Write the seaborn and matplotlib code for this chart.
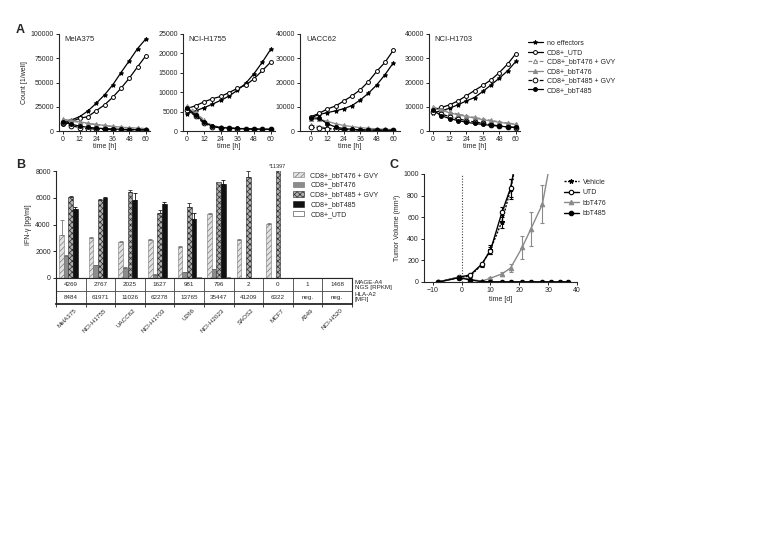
import numpy as np
import pandas as pd
import matplotlib
matplotlib.use("Agg")
import matplotlib.pyplot as plt
import seaborn as sns
from matplotlib.patches import Patch

sns.set_style("ticks")
plt.rcParams['font.family'] = ['Liberation Sans', 'DejaVu Sans']
plt.rcParams['font.size'] = 5
plt.rcParams['hatch.linewidth'] = 0.5
plt.rcParams['axes.linewidth'] = 0.8
plt.rcParams['xtick.major.width'] = 0.7
plt.rcParams['ytick.major.width'] = 0.7
plt.rcParams['xtick.major.size'] = 2.2
plt.rcParams['ytick.major.size'] = 2.2
plt.rcParams['xtick.major.pad'] = 1.5
plt.rcParams['ytick.major.pad'] = 1.5
plt.rcParams['xtick.labelsize'] = 5
plt.rcParams['ytick.labelsize'] = 5

# ---------------- Panel A data (killing kinetics) ----------------
hours = [0, 6, 12, 18, 24, 30, 36, 42, 48, 54, 60]

mel_noeff = [8600, 11400, 14800, 20700, 28600, 37200, 47600, 60300, 72500, 85000, 95000]
mel_utd = [7200, 9700, 13100, 14800, 21000, 26900, 34800, 44100, 54500, 66200, 77600]
mel_476gvy = [11000, 10000, 9000, 7500, 6500, 5500, 4500, 3800, 3200, 2800, 2400]
mel_476 = [12000, 11000, 9500, 8000, 6800, 5800, 4800, 4000, 3400, 2900, 2500]
mel_485gvy = [8000, 5500, 3500, 2500, 2000, 1700, 1500, 1300, 1200, 1100, 1000]
mel_485 = [9000, 7000, 5000, 3800, 3000, 2500, 2100, 1800, 1500, 1300, 1200]

h1755_noeff = [4500, 5200, 6000, 6900, 7900, 9000, 10500, 12300, 14800, 17800, 21100]
h1755_utd = [5800, 6500, 7500, 8300, 8900, 9900, 11000, 11800, 13500, 15600, 17800]
h1755_476gvy = [6500, 5000, 2800, 1400, 1000, 850, 700, 600, 550, 500, 450]
h1755_476 = [6000, 4600, 2500, 1300, 950, 800, 700, 600, 550, 500, 450]
h1755_485gvy = [5500, 3800, 2000, 1100, 800, 700, 600, 550, 500, 450, 400]
h1755_485 = [5800, 4200, 2300, 1200, 900, 750, 650, 550, 500, 450, 400]

uacc_noeff = [5500, 6800, 7600, 8300, 9200, 10500, 12800, 15600, 19000, 23200, 28000]
uacc_utd = [5900, 7300, 9100, 10300, 12400, 14500, 17000, 20400, 24600, 28300, 33200]
uacc_476gvy = [2500, 1800, 1200, 900, 700, 600, 500, 450, 400, 350, 300]
uacc_476 = [5000, 4800, 4000, 3000, 2300, 1800, 1400, 1100, 900, 700, 600]
uacc_485gvy = [1500, 1300, 1000, 800, 600, 500, 400, 350, 300, 280, 250]
uacc_485 = [5500, 5200, 3000, 1600, 1000, 700, 500, 400, 350, 300, 280]

h1703_noeff = [7600, 8300, 9400, 10800, 12400, 13800, 16300, 19000, 21800, 24800, 28700]
h1703_utd = [8700, 9700, 10800, 12400, 14500, 16700, 18800, 21100, 24100, 27600, 31900]
h1703_476gvy = [10000, 8800, 7800, 7000, 6300, 5600, 5000, 4400, 3800, 3300, 2900]
h1703_476 = [9200, 8500, 7500, 6700, 6000, 5300, 4700, 4100, 3600, 3100, 2700]
h1703_485gvy = [8000, 7000, 5900, 5000, 4300, 3700, 3200, 2600, 2100, 1700, 1400]
h1703_485 = [8500, 6300, 5100, 4300, 3600, 3100, 2700, 2300, 2000, 1700, 1500]

a_titles = ["MelA375", "NCI-H1755", "UACC62", "NCI-H1703"]
a_ymax = [100000, 25000, 40000, 40000]
a_ystep = [25000, 5000, 10000, 10000]
a_series = ["no effectors", "CD8+_UTD", "CD8+_bbT476 + GVY", "CD8+_bbT476",
            "CD8+_bbT485 + GVY", "CD8+_bbT485"]
a_data = [
    [mel_noeff, mel_utd, mel_476gvy, mel_476, mel_485gvy, mel_485],
    [h1755_noeff, h1755_utd, h1755_476gvy, h1755_476, h1755_485gvy, h1755_485],
    [uacc_noeff, uacc_utd, uacc_476gvy, uacc_476, uacc_485gvy, uacc_485],
    [h1703_noeff, h1703_utd, h1703_476gvy, h1703_476, h1703_485gvy, h1703_485],
]

# ---------------- Panel B data (IFN-gamma) ----------------
cell_lines = ["MelA375", "NCI-H1755", "UACC62", "NCI-H1703", "U266",
              "NCI-H2023", "SAOS2", "MCF7", "A549", "NCI-H520"]
b_groups = ["CD8+_bbT476 + GVY", "CD8+_bbT476", "CD8+_bbT485 + GVY",
            "CD8+_bbT485", "CD8+_UTD"]
ifn_476gvy = [3225, 3000, 2675, 2850, 2350, 4800, 2850, 4050, 0, 0]
ifn_476 = [1650, 950, 775, 250, 425, 650, 0, 0, 0, 0]
ifn_485gvy = [6050, 5825, 6400, 4875, 5325, 7150, 7575, 11397, 0, 0]
ifn_485 = [5150, 5950, 5825, 5525, 4375, 7050, 0, 0, 0, 0]
ifn_utd = [0, 0, 0, 0, 60, 60, 0, 0, 0, 0]
err_476gvy = [1100, 80, 60, 60, 40, 80, 60, 80, 0, 0]
err_476 = [60, 50, 60, 30, 60, 60, 0, 0, 0, 0]
err_485gvy = [80, 80, 170, 230, 250, 0, 450, 0, 0, 0]
err_485 = [150, 100, 550, 130, 450, 300, 0, 0, 0, 0]
err_utd = [0, 0, 0, 0, 0, 0, 0, 0, 0, 0]
mage_a4 = ["4269", "2767", "2025", "1627", "981", "796", "2", "0", "1", "1468"]
hla_a2 = ["8484", "61971", "11026", "62278", "13765", "35447", "41209", "6322", "neg.", "neg."]

# ---------------- Panel C data (tumor volume) ----------------
days_veh = [-8, -1, 3, 7, 10, 14, 17, 20]
vehicle = [0, 40, 55, 160, 300, 560, 860, 1250]
vehicle_err = [0, 5, 10, 20, 40, 60, 90, 0]
days_utd = [-8, -1, 3, 7, 10, 14, 17, 20]
utd = [0, 45, 65, 165, 290, 645, 870, 1300]
utd_err = [0, 5, 10, 15, 35, 45, 80, 0]
days_476 = [-8, -1, 3, 7, 10, 14, 17, 21, 24, 28, 31]
bbt476 = [0, 45, 25, 8, 35, 75, 130, 320, 490, 720, 1150]
bbt476_err = [0, 5, 5, 3, 10, 15, 40, 105, 155, 175, 0]
days_485 = [-8, -1, 3, 7, 10, 14, 17, 21, 24, 28, 31, 34, 37]
bbt485 = [0, 40, 20, 3, 2, 2, 2, 2, 2, 2, 2, 2, 2]

GREY = "#8a8a8a"
a_styles = [
    dict(color="black", ls="-", marker="*", mfc="black", ms=3.2),
    dict(color="black", ls="-", marker="o", mfc="white", ms=2.8),
    dict(color=GREY, ls=(0, (3, 1.5)), marker="^", mfc="white", ms=3),
    dict(color=GREY, ls="-", marker="^", mfc=GREY, ms=3),
    dict(color="black", ls=(0, (3, 1.5)), marker="o", mfc="white", ms=3.4),
    dict(color="black", ls="-", marker="o", mfc="black", ms=2.8),
]

W, H = 779, 551
fig = plt.figure(figsize=(W / 100, H / 100), dpi=100)


def px_axes(left, top, right, bottom):
    return fig.add_axes([left / W, 1 - bottom / H, (right - left) / W, (bottom - top) / H])


# ---------------- Panel A ----------------
a_pos = [(59, 150), (183, 275), (300, 400), (429, 520)]
a_xlim = [(-3, 63), (-3, 63), (-8, 65), (-3, 63)]
axes_a = []
for i, (l, r) in enumerate(a_pos):
    ax = px_axes(l, 34, r, 131)
    for name, vals, st in zip(a_series, a_data[i], a_styles):
        sns.lineplot(x=hours, y=vals, ax=ax, color=st["color"], linestyle=st["ls"],
                     marker=st["marker"], markerfacecolor=st["mfc"], markersize=st["ms"],
                     markeredgecolor=st["color"], markeredgewidth=0.7, linewidth=0.9,
                     label=name, legend=False)
    ax.set_xlim(*a_xlim[i])
    ax.set_ylim(0, a_ymax[i])
    ax.set_xticks(range(0, 61, 12))
    ax.set_yticks(range(0, a_ymax[i] + 1, a_ystep[i]))
    ax.set_xlabel("time [h]", fontsize=5, labelpad=0)
    ax.set_ylabel("")
    ax.text(0.06, 0.98, a_titles[i], transform=ax.transAxes, fontsize=5.5, va="top", ha="left")
    sns.despine(ax=ax)
    axes_a.append(ax)
axes_a[0].set_ylabel("Count [1/well]", fontsize=5, labelpad=2)

handles, labels = axes_a[3].get_legend_handles_labels()
fig.legend(handles, labels, loc="upper left", bbox_to_anchor=(525 / W, 1 - 37 / H),
           frameon=False, fontsize=5, handlelength=2.2, labelspacing=0.35,
           handletextpad=0.5, borderaxespad=0)

# ---------------- Panel B ----------------
axb = px_axes(56, 171, 352, 278)
b_vals = [ifn_476gvy, ifn_476, ifn_485gvy, ifn_485, ifn_utd]
b_errs = [err_476gvy, err_476, err_485gvy, err_485, err_utd]
df_b = pd.DataFrame({
    "line": np.repeat([cell_lines], len(b_groups), axis=0).ravel(),
    "group": np.repeat(b_groups, len(cell_lines)),
    "ifn": np.concatenate(b_vals),
})
b_face = ["#e2e2e2", "#8c8c8c", "#b0b0b0", "#111111", "white"]
b_edge = ["#7a7a7a", "#6a6a6a", "#2a2a2a", "#111111", "#333333"]
b_hatch = ["//////", None, "xxxxxx", None, None]
sns.barplot(data=df_b, x="line", y="ifn", hue="group", order=cell_lines, hue_order=b_groups,
            palette=b_face, saturation=1, width=0.78, errorbar=None, ax=axb, legend=False)
bar_conts = list(axb.containers)
for k, cont in enumerate(bar_conts):
    for bar, e in zip(cont, b_errs[k]):
        bar.set_edgecolor(b_edge[k])
        bar.set_linewidth(0.4)
        if b_hatch[k]:
            bar.set_hatch(b_hatch[k])
        if e > 0:
            xc = bar.get_x() + bar.get_width() / 2
            axb.errorbar(xc, bar.get_height(), yerr=[[0], [e]], fmt="none",
                         ecolor=b_edge[k] if k != 0 else "#777777",
                         elinewidth=0.6, capsize=1.2, capthick=0.6)
axb.set_xlim(-0.5, len(cell_lines) - 0.5)
axb.set_ylim(0, 8000)
axb.set_yticks(range(0, 8001, 2000))
axb.set_xticks([])
axb.set_xlabel("")
axb.set_ylabel("IFN-\u03b3 [pg/ml]", fontsize=5, labelpad=2)
sns.despine(ax=axb)
imax = int(np.argmax(ifn_485gvy))
axb.text(imax, 8150, "*" + str(ifn_485gvy[imax]), fontsize=4, ha="center", va="bottom")

b_handles = [Patch(facecolor=b_face[k], edgecolor=b_edge[k], hatch=b_hatch[k], linewidth=0.4)
             for k in range(len(b_groups))]
fig.legend(b_handles, b_groups, loc="upper left", bbox_to_anchor=(290 / W, 1 - 169 / H),
           frameon=False, fontsize=5, handlelength=1.6, handleheight=0.8,
           labelspacing=0.4, handletextpad=0.9, borderaxespad=0)

# table under panel B
axt = px_axes(56, 278, 352, 304)
axt.set_xlim(0, len(cell_lines))
axt.set_ylim(0, 2)
for s in axt.spines.values():
    s.set_linewidth(0.8)
axt.spines["bottom"].set_linewidth(1.3)
for j in range(1, len(cell_lines)):
    axt.axvline(j, color="#444444", lw=0.6)
axt.axhline(1, color="#444444", lw=0.6)
axt.set_xticks(range(len(cell_lines) + 1))
axt.set_xticklabels([])
axt.tick_params(axis="x", length=2, width=0.6)
axt.set_yticks([])
for j in range(len(cell_lines)):
    axt.text(j + 0.5, 1.5, mage_a4[j], ha="center", va="center", fontsize=4.5)
    axt.text(j + 0.5, 0.5, hla_a2[j], ha="center", va="center", fontsize=4.5)
    axt.text(j + 0.62, -0.3, cell_lines[j], ha="right", va="top", rotation=45,
             rotation_mode="anchor", fontsize=4.5)
axt.text(len(cell_lines) + 0.1, 1.5, "MAGE-A4\nNGS [RPKM]", ha="left", va="center",
         fontsize=4.5, linespacing=1.0)
axt.text(len(cell_lines) + 0.1, 0.5, "HLA-A2\n[MFI]", ha="left", va="center",
         fontsize=4.5, linespacing=1.0)

# ---------------- Panel C ----------------
axc = px_axes(424, 174, 577, 282)
axc.axvline(0, color="#444444", lw=0.8, ls=(0, (1, 1.5)))
c_sets = [
    ("Vehicle", days_veh, vehicle, vehicle_err, dict(color="black", ls=(0, (1.5, 1)), marker="*", mfc="black", ms=3.4)),
    ("UTD", days_utd, utd, utd_err, dict(color="black", ls="-", marker="o", mfc="white", ms=3.2)),
    ("bbT476", days_476, bbt476, bbt476_err, dict(color=GREY, ls="-", marker="^", mfc=GREY, ms=3.2)),
    ("bbT485", days_485, bbt485, None, dict(color="black", ls="-", marker="o", mfc="black", ms=3.2)),
]
for name, d, v, e, st in c_sets:
    if e is not None:
        axc.errorbar(d, v, yerr=e, fmt="none", ecolor=st["color"], elinewidth=0.8,
                     capsize=1.6, capthick=0.8)
    sns.lineplot(x=d, y=v, ax=axc, color=st["color"], linestyle=st["ls"], marker=st["marker"],
                 markerfacecolor=st["mfc"], markeredgecolor=st["color"], markersize=st["ms"],
                 markeredgewidth=0.8, linewidth=1.0, label=name, legend=False)
axc.set_xlim(-13, 40)
axc.set_ylim(0, 1000)
axc.set_xticks(range(-10, 41, 10))
axc.set_yticks(range(0, 1001, 200))
axc.set_xlabel("time [d]", fontsize=5, labelpad=1)
axc.set_ylabel("Tumor Volume (mm\u00b3)", fontsize=5, labelpad=2)
sns.despine(ax=axc)
c_handles, c_labels = axc.get_legend_handles_labels()
fig.legend(c_handles, c_labels, loc="upper left", bbox_to_anchor=(561 / W, 1 - 176 / H),
           frameon=False, fontsize=5, handlelength=2.2, labelspacing=0.5,
           handletextpad=0.5, borderaxespad=0)

# panel letters
fig.text(16 / W, 1 - 30 / H, "A", fontsize=9, fontweight="bold", va="center")
fig.text(16 / W, 1 - 165 / H, "B", fontsize=9, fontweight="bold", va="center")
fig.text(389 / W, 1 - 165 / H, "C", fontsize=9, fontweight="bold", va="center")

fig.savefig("out.png", dpi=100, facecolor="white")
